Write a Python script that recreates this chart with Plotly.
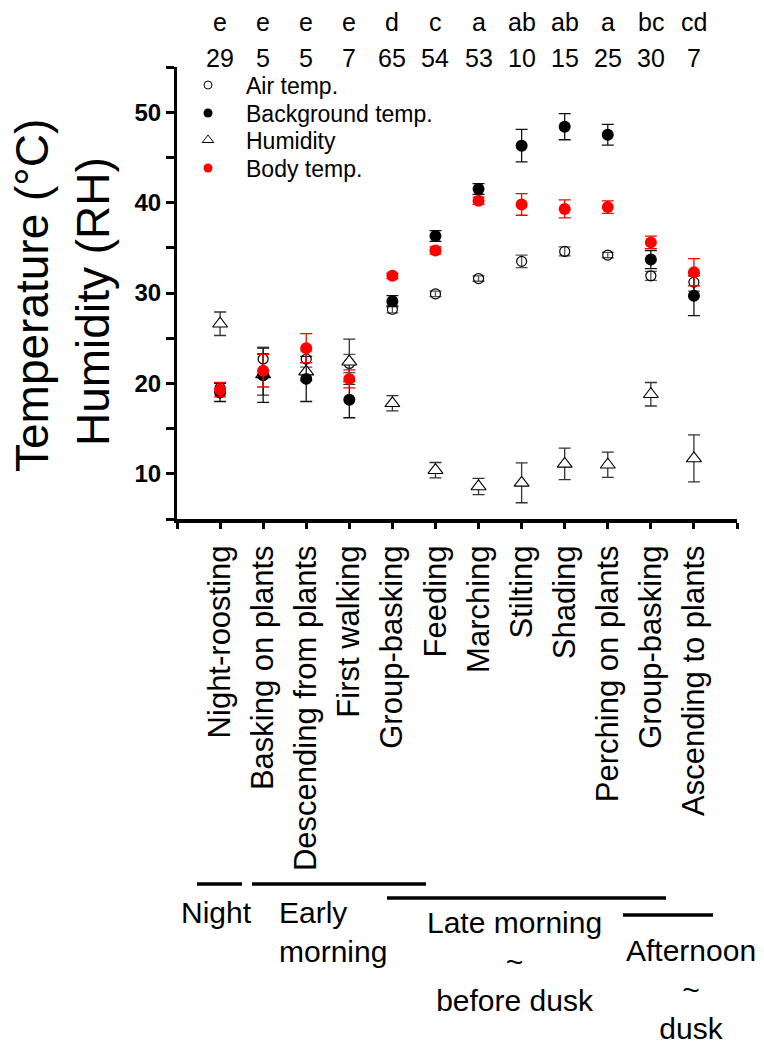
import plotly.graph_objects as go

categories = ["Night-roosting", "Basking on plants", "Descending from plants", "First walking",
              "Group-basking", "Feeding", "Marching", "Stilting", "Shading",
              "Perching on plants", "Group-basking", "Ascending to plants"]
sig_letters = ["e", "e", "e", "e", "d", "c", "a", "ab", "ab", "a", "bc", "cd"]
n_obs = [29, 5, 5, 7, 65, 54, 53, 10, 15, 25, 30, 7]

air_temp = [19.5, 22.7, 22.7, 22.2, 28.2, 29.9, 31.6, 33.5, 34.6, 34.2, 31.9, 31.2]
air_err = [0.5, 1.3, 0.9, 1.0, 0.4, 0.3, 0.3, 0.7, 0.5, 0.3, 0.5, 1.0]
bg_temp = [19.0, 20.9, 20.5, 18.2, 29.1, 36.3, 41.5, 46.3, 48.4, 47.5, 33.7, 29.7]
bg_err = [1.0, 3.0, 2.5, 2.0, 0.6, 0.6, 0.6, 1.8, 1.45, 1.15, 1.0, 2.2]
humidity = [26.6, 21.0, 21.3, 22.4, 17.8, 10.4, 8.6, 9.0, 11.1, 11.0, 18.8, 11.7]
hum_err = [1.3, 2.3, 1.0, 2.5, 0.85, 0.85, 0.9, 2.2, 1.75, 1.4, 1.3, 2.6]
body_temp = [19.3, 21.4, 23.9, 20.5, 31.9, 34.7, 40.2, 39.8, 39.3, 39.5, 35.6, 32.3]
body_err = [0.8, 1.8, 1.6, 1.0, 0.3, 0.4, 0.4, 1.2, 1.0, 0.7, 0.7, 1.5]

legend_labels = ["Air temp.", "Background temp.", "Humidity", "Body temp."]
periods = ["Night", "Early<br>morning", "Late morning<br>~<br>before dusk", "Afternoon<br>~<br>dusk"]

W, H = 764, 1046
L, R, T, B = 177, 27, 67, 527
PW, PH = W - L - R, H - T - B


def px(x):
    return (x - L) / PW


def py(y):
    return (T + PH - y) / PH


xs = list(range(len(categories)))
fig = go.Figure()


def add_series(y, err, marker, ecolor):
    fig.add_trace(go.Scatter(
        x=xs, y=y, mode="markers", marker=marker, showlegend=False, cliponaxis=False,
        error_y=dict(type="data", array=err, visible=True, color=ecolor, thickness=1.3, width=6)))


add_series(air_temp, air_err, dict(symbol="circle-open", size=10, color="black", line=dict(width=1.2, color="black")), "#555555")
add_series(humidity, hum_err, dict(symbol="triangle-up", size=13, color="white", line=dict(width=1.1, color="black")), "#333333")
add_series(bg_temp, bg_err, dict(symbol="circle", size=12, color="black"), "#111111")
add_series(body_temp, body_err, dict(symbol="circle", size=12, color="#ff0000"), "#ff0000")

# legend markers on an invisible overlay axis (paper-like 0..1)
leg_rows = [85, 113, 140, 168]
leg_markers = [
    dict(symbol="circle-open", size=8, color="black", line=dict(width=1, color="black")),
    dict(symbol="circle", size=9, color="black"),
    dict(symbol="triangle-up-open", size=10, color="black", line=dict(width=1, color="black")),
    dict(symbol="circle", size=9, color="#ff0000"),
]
for row, mk in zip(leg_rows, leg_markers):
    fig.add_trace(go.Scatter(x=[px(208)], y=[py(row)], mode="markers", marker=mk,
                             xaxis="x2", yaxis="y2", showlegend=False, hoverinfo="skip"))

annotations = []
for row, lab in zip(leg_rows, legend_labels):
    annotations.append(dict(text=lab, x=px(244), y=py(row + 1), xref="paper", yref="paper",
                            xanchor="left", yanchor="middle", showarrow=False,
                            font=dict(family="Arial", size=23, color="black")))

for i, (s, n) in enumerate(zip(sig_letters, n_obs)):
    annotations.append(dict(text=s, x=i, y=py(6.4), xref="x", yref="paper", xanchor="center",
                            yanchor="top", showarrow=False, font=dict(family="Arial", size=25, color="black")))
    annotations.append(dict(text=str(n), x=i, y=py(42.4), xref="x", yref="paper", xanchor="center",
                            yanchor="top", showarrow=False, font=dict(family="Arial", size=25, color="black")))

# y-axis titles
annotations.append(dict(text="Temperature (°C)", x=px(32), y=py(296), xref="paper", yref="paper",
                        xanchor="center", yanchor="middle", textangle=-90, showarrow=False,
                        font=dict(family="Arial", size=46, color="black")))
annotations.append(dict(text="Humidity (RH)", x=px(93), y=py(302), xref="paper", yref="paper",
                        xanchor="center", yanchor="middle", textangle=-90, showarrow=False,
                        font=dict(family="Arial", size=46, color="black")))

# time-of-day labels
period_pos = [(216, "center", 894), (277, "left", 894), (514, "center", 904), (691, "center", 932)]
for txt, (xx, anc, top) in zip(periods, period_pos):
    annotations.append(dict(text=txt, x=px(xx), y=py(top), xref="paper", yref="paper",
                            xanchor=anc, yanchor="top", align=anc,
                            showarrow=False, font=dict(family="Arial", size=30, color="black")))

shapes = []
for x0, x1, yy in [(197, 242, 884), (252, 426, 884), (387, 666, 898), (623, 713, 915)]:
    shapes.append(dict(type="line", xref="paper", yref="paper", x0=px(x0), x1=px(x1),
                       y0=py(yy), y1=py(yy), line=dict(color="black", width=3.5)))

fig.update_layout(
    width=W, height=H, margin=dict(l=L, r=R, t=T, b=B),
    plot_bgcolor="white", paper_bgcolor="white",
    annotations=annotations, shapes=shapes, showlegend=False,
    xaxis=dict(range=[-1, 12], tickmode="array", tickvals=list(range(-1, 13)),
               ticktext=[""] + categories + [""], tickangle=-90, ticks="outside", ticklen=6,
               tickwidth=3, tickcolor="black", showline=True, linewidth=4, linecolor="black",
               showgrid=False, zeroline=False, ticklabelstandoff=4,
               tickfont=dict(family="Arial", size=31, color="black")),
    yaxis=dict(range=[5, 55], tickmode="array", tickvals=[10, 20, 30, 40, 50],
               ticks="outside", ticklen=8, tickwidth=2.5, tickcolor="black",
               minor=dict(tickvals=[5, 15, 25, 35, 45, 55], ticks="outside", ticklen=8, tickwidth=2.5, tickcolor="black"),
               showline=True, linewidth=3, linecolor="black", showgrid=False, zeroline=False,
               tickfont=dict(family="Arial", size=24, color="black", weight="bold")),
    xaxis2=dict(overlaying="x", range=[0, 1], visible=False),
    yaxis2=dict(overlaying="y", range=[0, 1], visible=False),
)

fig.write_html("out.html", config={"displayModeBar": False},
               post_script="document.body.style.margin='0px';document.body.style.overflow='hidden';")
